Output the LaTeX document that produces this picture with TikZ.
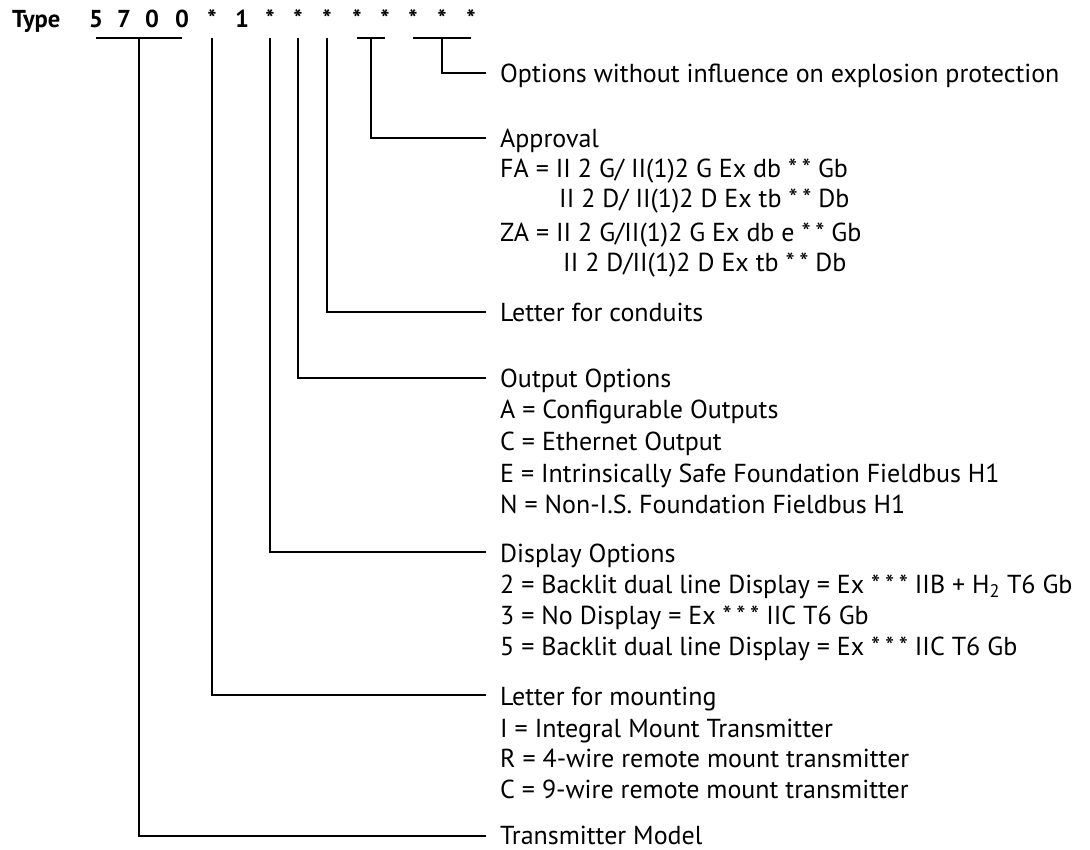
\documentclass[tikz,border=0pt]{standalone}
\usepackage{fontspec}
\setmainfont{PT Sans}
\usetikzlibrary{calc}
\newcommand\bodyfont{\fontsize{26}{30}\selectfont}
\newcommand\codefont{\fontsize{24.5}{28}\selectfont\bfseries}
\newcommand\astgap{\hspace{0.18em}}
\begin{document}
\begin{tikzpicture}[x=1pt,y=-1pt,
  code/.style={anchor=base, inner sep=0pt, font=\codefont},
  lbl/.style={anchor=base west, inner sep=0pt, font=\bodyfont},
  conn/.style={draw=black, line width=2.6pt}]
\useasboundingbox (0,0) rectangle (1090,850);
\coordinate (top) at (0,38);
% code row
\node[code, anchor=base west] (type) at (12,28) {Type};
\node[code] (c5) at (96,28) {5};
\node[code] (c7) at (124,28) {7};
\node[code] (c0a) at (152,28) {0};
\node[code] (c0b) at (182,28) {0};
\node[code] (s1) at (212,28) {*};
\node[code] (n1) at (242,28) {1};
\node[code] (s2) at (270,28) {*};
\node[code] (s3) at (298,28) {*};
\node[code] (s4) at (327,28) {*};
\node[code] (s5) at (357,28) {*};
\node[code] (s6) at (385,28) {*};
\node[code] (s7) at (413,28) {*};
\node[code] (s8) at (442,28) {*};
\node[code] (s9) at (471,28) {*};
% labels
\node[lbl] (opt0) at (500,83) {Options without influence on explosion protection};
\node[lbl] (app0) at (500,148) {Approval};
\node[lbl] (app1) at (500,178) {FA = II 2 G/ II(1)2 G Ex db *\astgap* Gb};
\node[lbl] (app2) at (559,208) {II 2 D/ II(1)2 D Ex tb *\astgap* Db};
\node[lbl] (app3) at (500,242) {ZA = II 2 G/II(1)2 G Ex db e *\astgap* Gb};
\node[lbl] (app4) at (563,272) {II 2 D/II(1)2 D Ex tb *\astgap* Db};
\node[lbl] (con0) at (500,322) {Letter for conduits};
\node[lbl] (out0) at (500,388) {Output Options};
\node[lbl] (out1) at (500,418) {A = Configurable Outputs};
\node[lbl] (out2) at (500,450) {C = Ethernet Output};
\node[lbl] (out3) at (500,482) {E = Intrinsically Safe Foundation Fieldbus H1};
\node[lbl] (out4) at (500,513) {N = Non-I.S. Foundation Fieldbus H1};
\node[lbl] (dis0) at (500,562) {Display Options};
\node[lbl] (dis1) at (500,593) {2 = Backlit dual line Display = Ex *\astgap*\astgap* IIB + H\textsubscript{2} T6 Gb};
\node[lbl] (dis2) at (500,624) {3 = No Display = Ex *\astgap*\astgap* IIC T6 Gb};
\node[lbl] (dis3) at (500,655) {5 = Backlit dual line Display = Ex *\astgap*\astgap* IIC T6 Gb};
\node[lbl] (mnt0) at (500,705) {Letter for mounting};
\node[lbl] (mnt1) at (500,737) {I = Integral Mount Transmitter};
\node[lbl] (mnt2) at (500,767) {R = 4-wire remote mount transmitter};
\node[lbl] (mnt3) at (500,798) {C = 9-wire remote mount transmitter};
\node[lbl] (mod0) at (500,844) {Transmitter Model};
% connectors
\draw[conn] (c5 |- top) -- (c0b |- top);
\draw[conn] ($(c5 |- top)!0.5!(c0b |- top)$) |- ($(mod0.base west)+(-14,-8)$);
\draw[conn] (s1 |- top) |- ($(mnt0.base west)+(-14,-10)$);
\draw[conn] (s2 |- top) |- ($(dis0.base west)+(-14,-10)$);
\draw[conn] (s3 |- top) |- ($(out0.base west)+(-14,-10)$);
\draw[conn] (s4 |- top) |- ($(con0.base west)+(-14,-10)$);
\draw[conn] (s5 |- top) -- (s6 |- top);
\draw[conn] ($(s5 |- top)!0.5!(s6 |- top)$) |- ($(app0.base west)+(-14,-10)$);
\draw[conn] (s7 |- top) -- (s9 |- top);
\draw[conn] (s8 |- top) |- ($(opt0.base west)+(-14,-10)$);
\end{tikzpicture}
\end{document}
